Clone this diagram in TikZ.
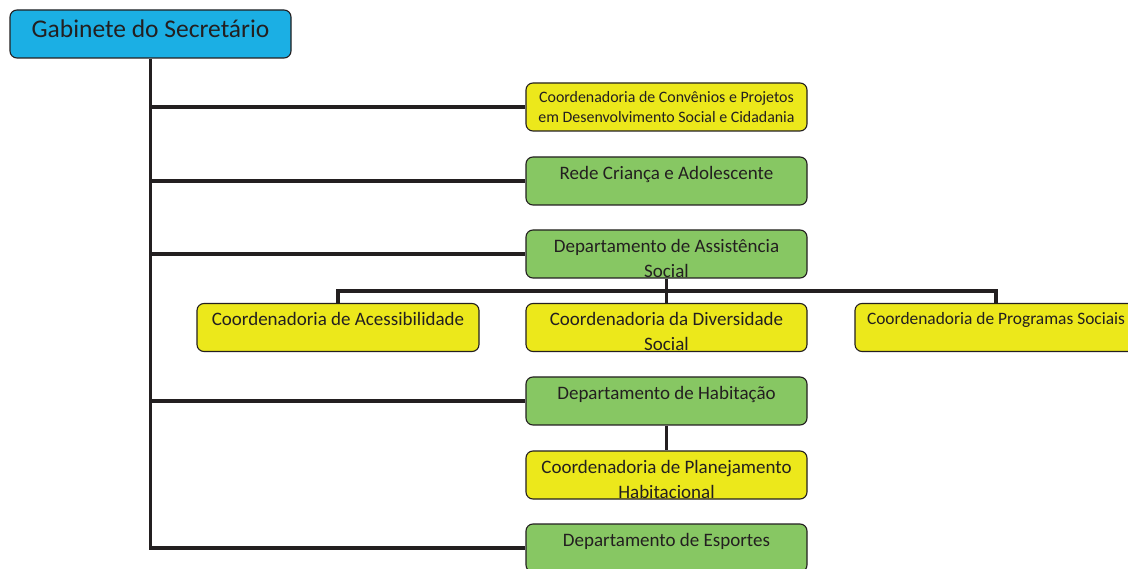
\documentclass[tikz,border=0pt]{standalone}
\usepackage{fontspec}
\setmainfont{Carlito}
\definecolor{inkc}{HTML}{231F20}
\definecolor{headblue}{HTML}{1BAFE4}
\definecolor{deptgreen}{HTML}{87C763}
\definecolor{coordyellow}{HTML}{ECE81B}
\tikzset{
  box/.style={draw=inkc, line width=1.1pt, rounded corners=7pt, inner sep=0pt,
    minimum width=281pt, minimum height=48pt, text=inkc, align=center,
    font=\fontsize{19}{25}\selectfont, text height=22.5pt, text depth=25.5pt},
  twoline/.style={text height=47.5pt, text depth=0.5pt},
  dept/.style={box, fill=deptgreen},
  coord/.style={box, fill=coordyellow},
  link/.style={draw=inkc, line width=3.6pt, line join=miter}
}
\begin{document}
\begin{tikzpicture}[x=1pt, y=-1pt]
  \useasboundingbox (0,0) rectangle (1128,569);
  \clip (0,0) rectangle (1128,569);
  \fill[white] (0,0) rectangle (1128,569);

  % boxes
  \node[box, fill=headblue, font=\fontsize{25.5}{30}\selectfont, text height=28pt, text depth=20pt] (gab) at (150.5,34) {Gabinete do Secretário};
  \node[coord, font=\fontsize{15.9}{20}\selectfont, text height=40pt, text depth=8pt] (conv) at (666.5,107) {Coordenadoria de Convênios e Projetos\\em Desenvolvimento Social e Cidadania};
  \node[dept] (rede) at (666.5,181) {Rede Criança e Adolescente};
  \node[dept, twoline] (dasst) at (666.5,254) {Departamento de Assistência\\Social};
  \node[coord, minimum width=282pt] (acess) at (338,327.5) {Coordenadoria de Acessibilidade};
  \node[coord, twoline] (divers) at (666.5,327.5) {Coordenadoria da Diversidade\\Social};
  \node[coord, minimum width=282pt, font=\fontsize{17.4}{22}\selectfont, text height=21pt, text depth=27pt] (prog) at (996,327.5) {Coordenadoria de Programas Sociais};
  \node[dept] (dhab) at (666.5,401) {Departamento de Habitação};
  \node[coord, twoline] (plan) at (666.5,475) {Coordenadoria de Planejamento\\Habitacional};
  \node[dept] (esp) at (666.5,548) {Departamento de Esportes};

  % main trunk from the secretary's office with its branches
  \draw[link] (gab.south) |- (esp.west);
  \draw[link] (gab.south |- conv.west) -- (conv.west);
  \draw[link] (gab.south |- rede.west) -- (rede.west);
  \draw[link] (gab.south |- dasst.west) -- (dasst.west);
  \draw[link] (gab.south |- dhab.west) -- (dhab.west);

  % social assistance coordinations
  \coordinate (bus) at (666.5,291);
  \draw[link] (dasst.south) -- (divers.north);
  \draw[link] (acess.north) |- (bus) -| (prog.north);

  % housing
  \draw[link] (dhab.south) -- (plan.north);
\end{tikzpicture}
\end{document}
